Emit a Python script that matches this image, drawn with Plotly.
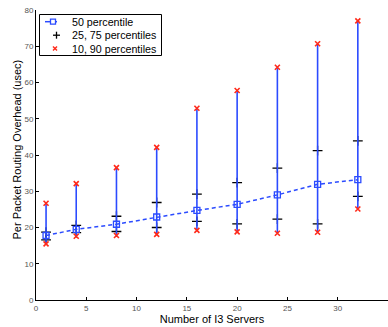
import plotly.graph_objects as go

servers = [1, 4, 8, 12, 16, 20, 24, 28, 32]
p50 = [17.8, 19.5, 20.9, 22.9, 24.7, 26.4, 29.0, 31.9, 33.2]
p25 = [16.6, 18.6, 18.9, 20.0, 21.7, 21.0, 22.3, 21.0, 28.6]
p75 = [18.7, 20.6, 23.1, 26.9, 29.2, 32.4, 36.4, 41.2, 43.9]
p10 = [15.5, 17.6, 17.8, 18.1, 19.2, 18.8, 18.4, 18.7, 25.1]
p90 = [26.7, 32.1, 36.5, 42.1, 52.9, 57.8, 64.2, 70.7, 77.0]
legend_labels = ["50 percentile", "25, 75 percentiles", "10, 90 percentiles"]

BLUE = "#2b4bff"
RED = "#ff2a1a"
FONT = "Liberation Sans, Arial, sans-serif"

W, H = 388, 327
ML, MR, MT, MB = 36, 0, 10, 27
PW, PH = W - ML - MR, H - MT - MB


def px(x):
    return (x - ML) / PW


def py(y):
    return (H - MB - y) / PH


fig = go.Figure()

# 25/75 percentiles as black crosses (beneath the blue whiskers)
fig.add_trace(go.Scatter(
    x=servers + servers, y=p25 + p75, mode="markers", showlegend=False,
    marker=dict(symbol="cross-thin", size=7, line=dict(color="black", width=1.3)),
))

# Whiskers 10th-90th percentile, with dashed median line
fig.add_trace(go.Scatter(
    x=servers, y=p50, mode="lines+markers", showlegend=False,
    line=dict(color=BLUE, width=1.5, dash="4px,3px"),
    marker=dict(symbol="square-open", size=6, color=BLUE, line=dict(width=1.3, color=BLUE)),
    error_y=dict(type="data", symmetric=False,
                 array=[a - b for a, b in zip(p90, p50)],
                 arrayminus=[b - a for a, b in zip(p10, p50)],
                 color=BLUE, thickness=1.6, width=0),
))

# 10/90 percentiles as red x markers
fig.add_trace(go.Scatter(
    x=servers + servers, y=p10 + p90, mode="markers", showlegend=False,
    marker=dict(symbol="x-thin", size=5, line=dict(color=RED, width=1.6)),
))

# ---- manual legend (box, symbols, text) ----
shapes = []
shapes.append(dict(type="rect", xref="paper", yref="paper",
                   x0=px(39.5), x1=px(161.5), y0=py(55.5), y1=py(14.5),
                   line=dict(color="black", width=1), fillcolor="white", layer="above"))
rows = [21.7, 35.2, 48.5]
# row 1: blue line + open square
shapes.append(dict(type="line", xref="paper", yref="paper", x0=px(45), x1=px(57),
                   y0=py(rows[0]), y1=py(rows[0]), line=dict(color=BLUE, width=1.5), layer="above"))
shapes.append(dict(type="rect", xref="paper", yref="paper", x0=px(50.5), x1=px(55.5),
                   y0=py(rows[0] + 2.5), y1=py(rows[0] - 2.5),
                   line=dict(color=BLUE, width=1.3), fillcolor="white", layer="above"))
# row 2: black plus
shapes.append(dict(type="line", xref="paper", yref="paper", x0=px(53), x1=px(60),
                   y0=py(rows[1]), y1=py(rows[1]), line=dict(color="black", width=1.3), layer="above"))
shapes.append(dict(type="line", xref="paper", yref="paper", x0=px(56.5), x1=px(56.5),
                   y0=py(rows[1] - 3.5), y1=py(rows[1] + 3.5), line=dict(color="black", width=1.3), layer="above"))
# row 3: red x
for dy in (-2, 2):
    shapes.append(dict(type="line", xref="paper", yref="paper", x0=px(53), x1=px(57),
                       y0=py(rows[2] - dy), y1=py(rows[2] + dy), line=dict(color=RED, width=1.5), layer="above"))

annotations = []
for label, r in zip(legend_labels, rows):
    annotations.append(dict(text=label, xref="paper", yref="paper", x=px(70), y=py(r),
                            xanchor="left", yanchor="middle", showarrow=False,
                            font=dict(size=10.7, family=FONT, color="black")))

# y-axis title placed as rotated annotation
annotations.append(dict(text="Per Packet Routing Overhead (usec)", xref="paper", yref="paper",
                        x=px(16.5), y=py(150), xanchor="center", yanchor="middle",
                        textangle=-90, showarrow=False,
                        font=dict(size=11, family=FONT, color="black")))

fig.update_layout(
    width=W, height=H,
    margin=dict(l=ML, r=MR, t=MT, b=MB),
    paper_bgcolor="white", plot_bgcolor="white",
    font=dict(family=FONT, color="black"),
    showlegend=False, shapes=shapes, annotations=annotations,
)

fig.update_xaxes(range=[0, 35], tickvals=[0, 5, 10, 15, 20, 25, 30, 35],
                 ticks="inside", ticklen=3, tickcolor="black",
                 showline=True, linecolor="black", linewidth=1, mirror=False,
                 showgrid=False, zeroline=False,
                 tickfont=dict(size=8, color="#555555", family=FONT),
                 title=dict(text="Number of I3 Servers", font=dict(size=11, family=FONT), standoff=3))
fig.update_yaxes(range=[0, 80], tickvals=[0, 10, 20, 30, 40, 50, 60, 70, 80],
                 ticks="inside", ticklen=3, tickcolor="black",
                 showline=True, linecolor="black", linewidth=1, mirror=False,
                 showgrid=False, zeroline=False, ticklabelstandoff=0,
                 tickfont=dict(size=8, color="#555555", family=FONT))

fig.write_html("out.html")
